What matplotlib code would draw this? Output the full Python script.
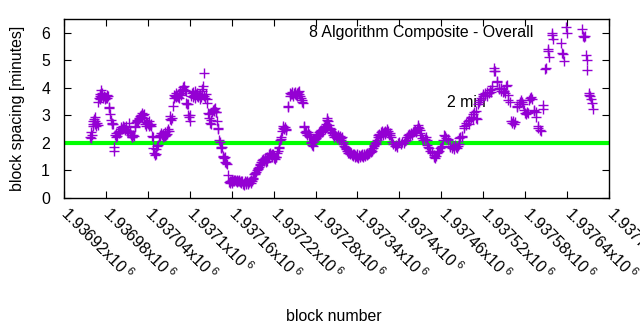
import matplotlib
matplotlib.use("Agg")
import matplotlib.pyplot as plt
import matplotlib.transforms as mtransforms
from matplotlib.ticker import FixedLocator, FuncFormatter

plt.rcParams['font.family'] = ['Liberation Sans', 'DejaVu Sans']
plt.rcParams['mathtext.fontset'] = 'custom'
plt.rcParams['mathtext.rm'] = 'Liberation Sans'
plt.rcParams['mathtext.it'] = 'Liberation Sans'

# bloque de partida y desplazamientos
first_block = 1936920
block_offset = [
    37, 38, 39, 40, 41, 42, 42, 43, 44, 44, 45, 46, 47, 48,
    49, 50, 51, 51, 52, 53, 53, 54, 55, 56, 57, 58, 59, 60, 61, 62, 63,
    64, 65, 66, 67, 68, 69, 70, 71, 72, 73, 74, 75, 76, 77, 78,
    79, 80, 81, 82, 83, 84, 85, 86, 87, 88, 89, 90, 91, 92, 93, 94, 95, 96, 97, 98,
    99, 100, 101, 102, 103, 104, 105, 106, 107, 108, 109, 110, 111, 112, 113, 114,
    115, 116, 117, 118, 119, 120, 121, 122, 123, 124, 125,
    126, 127, 128, 129, 130, 131, 132, 133, 134, 136, 137, 138, 139, 140, 141, 142,
    143, 144, 145, 146, 147, 148, 149, 150,
    151, 152, 153, 154, 156, 157, 158, 159, 160, 161, 162, 163, 164, 165, 166, 167,
    168, 169, 170, 171, 172, 173, 174, 175, 176, 177, 178, 179, 180, 181, 182, 183,
    184, 185, 186, 187, 188, 189, 190, 191, 192, 193, 194, 195, 196, 197, 198, 199,
    200, 201, 202, 203, 204, 205, 206, 207, 208, 209, 210, 211, 212, 213, 214, 215,
    216, 217, 218, 219, 220, 221, 222, 223, 224, 225, 226, 227, 228, 229, 230, 231,
    232, 233, 235,
    236, 237, 238, 239, 240, 241, 242, 243, 244, 245, 246, 247, 248, 249, 250, 251,
    252, 253, 254, 255, 256, 257, 258, 259, 260, 261, 262, 263, 264, 265, 266, 267,
    268, 269, 270,
    271, 272, 273, 274, 275, 276, 277, 278, 279, 280, 281, 282, 283, 284, 285, 286,
    287, 288, 289, 290, 291, 292, 293, 294, 295, 296, 297, 298, 299, 300, 301, 302,
    303, 304, 305, 306, 307, 308, 309, 310, 311, 312, 313, 314, 315, 316, 317, 318,
    320, 321, 323, 324, 325, 326, 327, 328, 329, 330, 331, 332, 333, 334, 335, 336,
    337, 338, 339, 340, 341, 342, 343, 344, 345, 346, 347, 348, 349, 350, 351, 352,
    353, 354, 355, 356, 357, 358, 359, 360, 361, 362, 363, 364, 365, 366, 367, 368,
    369, 370, 371, 372, 373, 374, 375, 376, 377, 378, 379, 380, 381, 382, 383, 384, 385,
    386, 387, 388, 389, 390, 391, 392, 393, 394, 395, 396, 397, 398, 399, 400, 401,
    402, 403, 404, 405, 406, 407, 408, 409, 410, 411, 412, 413, 414, 415, 416, 417,
    418, 419, 420, 421, 422, 423, 424, 425, 426, 427, 428, 429, 430, 431, 432, 433,
    434, 435, 436, 437, 438, 439, 440, 441, 442, 443, 444, 445, 446, 447, 448, 449,
    450, 451, 452, 453, 454, 455, 456, 457, 458, 459, 460, 461, 462, 463, 464, 465,
    466, 467, 468,
    469, 471, 473, 475, 477, 478, 480, 482, 484, 486, 488, 490, 491, 492, 494, 495,
    497, 498, 500, 501, 503, 504, 505, 506, 507, 508, 509, 510, 511, 513, 514, 516,
    518, 519, 520, 521, 523, 524, 526, 527, 529, 530, 531, 532, 534, 535, 537, 538,
    540, 541, 543, 544, 545, 547, 549, 550, 552, 553, 555, 556, 558, 559, 561, 562,
    564, 565, 566, 567, 569, 570, 572, 573, 575, 576, 578, 579, 580, 582, 583, 585,
    586, 587, 589, 590, 591, 593, 594, 596, 597, 599, 600, 602, 603, 605, 606, 608,
    609, 611, 612, 613, 615, 616, 617, 619, 620, 622, 623, 625, 626, 628, 629, 631,
    632, 634, 635, 636, 638, 640, 641, 643, 644, 646, 648, 649, 651, 652, 654, 655,
    657, 658, 660, 661, 663, 664, 666, 667, 669, 670, 672, 673, 675, 676, 678, 679,
    681, 683, 685, 686,
    689, 690, 692, 693, 694, 698, 699, 700, 711, 713, 714, 715, 718, 720,
    741, 743, 744, 745, 747, 748, 749, 751, 752, 753, 754, 756, 757,
]
spacing_min = [
    2.22, 2.18, 2.38, 2.28, 2.62, 2.78, 2.70, 2.88, 2.95, 2.68, 2.80, 2.62, 2.72, 2.66,
    3.50, 3.62, 3.70, 3.58, 3.78, 3.92, 3.66, 3.74, 3.82, 3.62, 3.70, 3.58, 3.66, 3.62, 3.74, 3.64, 3.70,
    3.32, 3.28, 3.05, 2.82, 2.74, 2.68, 2.70, 1.72, 1.84, 2.30, 2.22, 2.35, 2.26, 2.40, 2.36,
    2.44, 2.40, 2.52, 2.58, 2.50, 2.62, 2.55, 2.58, 2.48, 2.52, 2.60, 2.42, 2.45, 2.38, 2.74, 2.35, 2.42, 2.28, 2.22, 2.20,
    2.30, 2.25, 2.62, 2.58, 2.75, 2.80, 2.85, 2.80, 2.92, 2.88, 2.98, 3.02, 2.95, 3.10, 3.02, 3.05,
    2.92, 2.70, 2.75, 2.62, 2.72, 2.68, 2.78, 2.60, 2.66, 2.70, 2.62,
    2.24, 2.22, 1.82, 1.62, 1.55, 1.58, 1.78, 1.88, 1.92, 2.22, 2.30, 2.25, 2.35, 2.28, 2.20, 2.32,
    2.26, 2.38, 2.24, 2.30, 2.42, 2.32, 2.50, 2.45,
    2.88, 2.98, 2.85, 2.92, 3.35, 3.62, 3.75, 3.70, 3.82, 3.65, 3.72, 3.68, 3.78, 3.62, 3.90, 3.74,
    3.80, 3.92, 4.02, 3.96, 4.05, 3.92, 3.88, 3.45, 3.42, 3.40, 3.02, 2.95, 2.78, 3.00, 3.72, 3.80,
    3.68, 3.85, 3.74, 3.90, 3.62, 3.78, 3.70, 3.82, 3.66, 3.74, 3.60, 3.76, 3.65, 3.88, 3.95, 4.05,
    4.53, 3.70, 3.62, 3.78, 3.58, 3.44, 3.10, 3.05, 2.92, 2.72, 2.82, 2.68, 3.12, 3.18, 3.22, 3.15,
    3.26, 3.12, 3.12, 2.80, 2.55, 2.50, 2.10, 2.05, 1.86, 1.80, 1.84, 1.52, 1.48, 1.45, 1.50, 1.32,
    1.28, 1.25, 0.82,
    0.58, 0.55, 0.62, 0.60, 0.56, 0.64, 0.62, 0.66, 0.60, 0.65, 0.62, 0.58, 0.64, 0.60, 0.62, 0.66,
    0.58, 0.55, 0.62, 0.60, 0.52, 0.48, 0.55, 0.60, 0.52, 0.58, 0.62, 0.55, 0.50, 0.58, 0.62, 0.56,
    0.65, 0.60, 0.68,
    0.72, 0.86, 0.92, 0.88, 0.95, 1.00, 1.08, 1.05, 1.12, 1.20, 1.25, 1.30, 1.38, 1.32, 1.42, 1.36,
    1.45, 1.40, 1.30, 1.35, 1.48, 1.44, 1.52, 1.58, 1.62, 1.55, 1.50, 1.60, 1.58, 1.52, 1.45, 1.40,
    1.48, 1.50, 1.62, 1.72, 1.80, 1.86, 2.12, 2.20, 2.15, 2.45, 2.55, 2.62, 2.50, 2.58, 2.52, 2.48,
    3.35, 3.32, 3.72, 3.80, 3.76, 3.84, 3.78, 3.72, 3.82, 3.76, 3.86, 3.74, 3.80, 3.70, 3.84, 3.78,
    3.90, 3.72, 3.62, 3.55, 3.50, 3.45, 2.58, 2.62, 2.40, 2.35, 2.42, 2.30, 2.38, 2.25, 2.32, 2.20,
    2.05, 1.98, 1.92, 1.88, 2.02, 2.10, 2.14, 2.18, 2.22, 2.28, 2.32, 2.26, 2.38, 2.42, 2.34, 2.46,
    2.40, 2.52, 2.45, 2.58, 2.50, 2.62, 2.70, 2.82, 2.90, 2.78, 2.65, 2.55, 2.48, 2.52, 2.40, 2.36, 2.30,
    2.28, 2.22, 2.30, 2.25, 2.18, 2.22, 2.28, 2.20, 2.15, 2.24, 2.18, 2.10, 2.22, 2.05, 1.95, 1.90,
    1.85, 1.82, 1.78, 1.70, 1.72, 1.65, 1.62, 1.68, 1.58, 1.62, 1.55, 1.60, 1.52, 1.58, 1.55, 1.48,
    1.52, 1.58, 1.50, 1.45, 1.55, 1.52, 1.48, 1.56, 1.52, 1.58, 1.50, 1.55, 1.60, 1.54, 1.58, 1.62,
    1.56, 1.60, 1.65, 1.62, 1.70, 1.68, 1.75, 1.72, 1.80, 1.88, 1.92, 1.98, 1.95, 2.05, 2.12, 2.20,
    2.28, 2.32, 2.25, 2.38, 2.30, 2.42, 2.35, 2.28, 2.40, 2.45, 2.32, 2.38, 2.50, 2.36, 2.42, 2.30,
    2.35, 2.28, 2.20,
    2.05, 1.95, 1.88, 1.92, 1.85, 1.98, 2.02, 1.95, 2.05, 1.98, 2.08, 2.12, 2.20, 2.28, 2.32, 2.25,
    2.35, 2.30, 2.38, 2.42, 2.48, 2.40, 2.52, 2.58, 2.65, 2.55, 2.48, 2.35, 2.30, 2.18, 2.12, 2.15,
    2.20, 2.10, 1.92, 1.85, 1.80, 1.72, 1.68, 1.62, 1.55, 1.48, 1.44, 1.52, 1.62, 1.68, 1.72, 1.80,
    1.85, 1.90, 2.10, 2.30, 2.25, 2.18, 2.12, 2.15, 1.90, 1.85, 1.82, 1.88, 1.78, 1.92, 1.85, 1.80,
    1.88, 1.95, 2.18, 2.20, 2.25, 2.22, 2.55, 2.60, 2.65, 2.72, 2.78, 2.70, 2.85, 2.90, 2.95, 2.88,
    3.05, 3.12, 3.15, 2.92, 2.88, 3.40, 3.48, 3.55, 3.62, 3.70, 3.78, 3.75, 3.82, 3.70, 3.86, 3.80,
    3.92, 3.85, 3.95, 4.05, 4.62, 4.72, 4.60, 4.20, 4.25, 4.00, 3.95, 3.90, 3.98, 3.85, 3.88, 3.80,
    4.08, 4.12, 3.75, 3.55, 3.50, 2.78, 2.72, 2.80, 2.68, 2.75, 3.30, 3.35, 3.40, 3.48, 3.55, 3.50,
    3.42, 3.20, 3.10, 3.05, 3.12, 3.08, 3.55, 3.62, 3.68, 3.58, 3.15, 3.20, 3.12, 2.95, 2.60, 2.55,
    2.48, 2.45, 3.25, 3.38,
    4.68, 4.72, 5.35, 5.40, 5.12, 5.92, 5.98, 5.78, 5.64, 5.28, 5.22, 4.96, 6.22, 6.00,
    6.15, 5.88, 5.85, 5.90, 5.20, 5.00, 4.65, 3.82, 3.75, 3.70, 3.58, 3.45, 3.22,
]

target_minutes = 2
x_ticks = [first_block + 60 * i for i in range(14)]
x_range = (first_block, first_block + 780)
y_range = (0, 6.5)

blocks = [first_block + o for o in block_offset]
fs = 11.4

fig = plt.figure(figsize=(6.4, 3.3), dpi=100)
ax = fig.add_axes([0.1, 0.4, 0.8516, 0.5424])

ax.axhline(target_minutes, color='#00ff00', linewidth=3.0, zorder=2)
ax.text(0.703, 0.536, '2 min', transform=ax.transAxes, fontsize=fs,
        ha='left', va='center', zorder=1)
ax.plot(blocks, spacing_min, linestyle='none', marker='+', markersize=6.5,
        markeredgewidth=1.0, color='#9400d3', zorder=3)
ax.text(0.861, 0.927, '8 Algorithm Composite - Overall', transform=ax.transAxes,
        fontsize=fs, ha='right', va='center')

ax.set_xlim(*x_range)
ax.set_ylim(*y_range)
ax.xaxis.set_major_locator(FixedLocator(x_ticks))
ax.xaxis.set_major_formatter(FuncFormatter(lambda v, p: f"{v / 1e6:g}x10$^{{\\ 6}}$"))
ax.set_yticks(range(0, 7))

ax.tick_params(direction='in', length=5, width=0.8, top=True, right=True,
               labelsize=fs, colors='black')
ax.tick_params(axis='x', pad=4)
ax.tick_params(axis='y', pad=10)
shift = mtransforms.ScaledTranslation(7 / 100, 0, fig.dpi_scale_trans)
for lbl in ax.get_xticklabels():
    lbl.set_rotation(-45)
    lbl.set_ha('left')
    lbl.set_va('top')
    lbl.set_rotation_mode('anchor')
    lbl.set_transform(lbl.get_transform() + shift)
for s in ax.spines.values():
    s.set_linewidth(1.0)

ax.set_xlabel('block number', fontsize=fs)
ax.set_ylabel('block spacing [minutes]', fontsize=fs, labelpad=12)
ax.xaxis.set_label_coords(0.495, -0.62)

fig.savefig('out.png', dpi=100)
